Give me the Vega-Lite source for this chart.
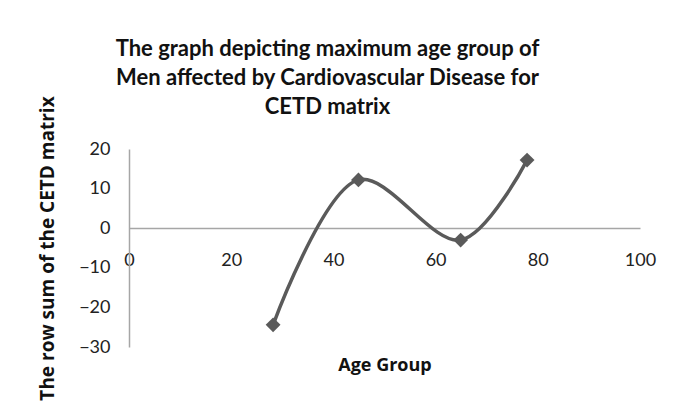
{
  "$schema": "https://vega.github.io/schema/vega-lite/v6.json",
  "autosize": "none",
  "width": 511,
  "height": 198,
  "padding": {"left": 129, "top": 149, "right": 36, "bottom": 54},
  "background": "white",
  "title": {
    "text": ["The graph depicting maximum  age group of", "Men affected by Cardiovascular  Disease for", "CETD matrix"],
    "font": "Lato",
    "fontSize": 22,
    "fontWeight": "bold",
    "color": "#111111",
    "lineHeight": 29,
    "anchor": "middle",
    "frame": "group",
    "dx": -57,
    "dy": 28,
    "offset": 5
  },
  "data": {
    "values": [
      {"age": 28.2, "rowsum": -24.4},
      {"age": 44.9, "rowsum": 12.2},
      {"age": 64.9, "rowsum": -3.0},
      {"age": 77.9, "rowsum": 17.2}
    ]
  },
  "encoding": {
    "x": {
      "field": "age",
      "type": "quantitative",
      "scale": {"domain": [0, 100], "nice": false, "zero": false},
      "axis": {
        "title": "Age Group",
        "values": [0, 20, 40, 60, 80, 100],
        "offset": -119,
        "grid": false,
        "ticks": false,
        "domainColor": "#a6a6a6",
        "domainWidth": 1.5,
        "labelFont": "Lato",
        "labelFontSize": 18,
        "labelColor": "#222222",
        "labelPadding": 23,
        "labelFlush": false,
        "titleFont": "Open Sans",
        "titleFontSize": 18,
        "titleFontWeight": "bold",
        "titleColor": "#111111",
        "titlePadding": 87
      }
    },
    "y": {
      "field": "rowsum",
      "type": "quantitative",
      "scale": {"domain": [-30, 20], "nice": false, "zero": false},
      "axis": {
        "title": "The row sum of the CETD matrix",
        "values": [-30, -20, -10, 0, 10, 20],
        "grid": false,
        "ticks": false,
        "domainColor": "#a6a6a6",
        "domainWidth": 1.5,
        "labelFont": "Lato",
        "labelFontSize": 18,
        "labelColor": "#222222",
        "labelPadding": 19,
        "labelFlush": false,
        "titleFont": "Open Sans",
        "titleFontSize": 19,
        "titleFontWeight": "bold",
        "titleColor": "#111111",
        "titlePadding": 21
      }
    }
  },
  "layer": [
    {
      "mark": {"type": "line", "interpolate": "catmull-rom", "color": "#5a5a5a", "strokeWidth": 3.5}
    },
    {
      "mark": {"type": "point", "shape": "diamond", "filled": true, "color": "#5a5a5a", "size": 220, "opacity": 1}
    }
  ],
  "config": {"view": {"stroke": null}}
}
